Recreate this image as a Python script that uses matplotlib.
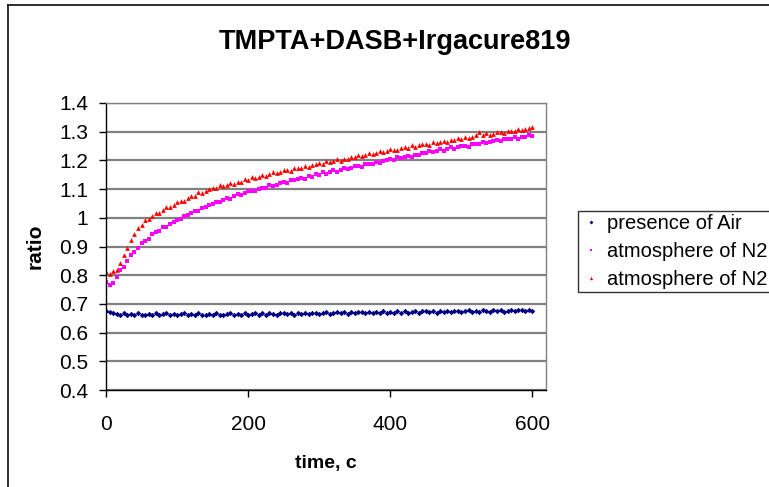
"""
plot.py
-------
Photopolymerisation kinetics of TMPTA+DASB+Irgacure819: fluorescence
ratio vs irradiation time, in air and under N2 (two runs).
"""

import matplotlib
matplotlib.use("Agg")
import matplotlib.pyplot as plt
from matplotlib.lines import Line2D

plt.rcParams["font.family"] = ["Liberation Sans", "DejaVu Sans"]

TITLE = "TMPTA+DASB+Irgacure819"
X_LABEL = "time, c"
Y_LABEL = "ratio"
LABELS = ["presence of Air", "atmosphere of N2", "atmosphere of N2"]

# sampling time, s (every 5 s)
TIME = list(range(0, 601, 5))

AIR = [0.677, 0.673, 0.667, 0.665, 0.662, 0.668, 0.662, 0.666, 0.661, 0.667,
       0.663, 0.660, 0.666, 0.662, 0.667, 0.661, 0.664, 0.668, 0.662, 0.666,
       0.660, 0.664, 0.667, 0.661, 0.666, 0.662, 0.668, 0.663, 0.661, 0.666,
       0.662, 0.667, 0.663, 0.661, 0.666, 0.668, 0.662, 0.666, 0.663, 0.667,
       0.661,
       0.666, 0.668, 0.662, 0.667, 0.663, 0.668, 0.665, 0.662, 0.667, 0.669,
       0.664, 0.668, 0.663, 0.669, 0.665, 0.670, 0.664, 0.668, 0.670, 0.665,
       0.669, 0.671, 0.666, 0.670, 0.672, 0.667, 0.671, 0.666, 0.672, 0.668,
       0.671, 0.673, 0.667, 0.672, 0.668, 0.673, 0.669, 0.674, 0.669, 0.673,
       0.668, 0.674, 0.670, 0.675, 0.669, 0.673, 0.675, 0.670, 0.674, 0.676,
       0.671, 0.675, 0.670, 0.676, 0.672, 0.677, 0.671, 0.675, 0.677, 0.672,
       0.676, 0.678, 0.672, 0.677, 0.673, 0.678, 0.674, 0.672, 0.678, 0.674,
       0.679, 0.673, 0.677, 0.679, 0.674, 0.678, 0.680, 0.675, 0.679, 0.676]

N2_A = [0.775, 0.766, 0.773, 0.793, 0.817, 0.829, 0.851, 0.872, 0.881, 0.896,
        0.912, 0.920, 0.927, 0.942, 0.949, 0.954, 0.968, 0.968, 0.978, 0.987,
        0.994, 0.995, 1.008, 1.009, 1.016, 1.025, 1.024, 1.034, 1.036, 1.046,
        1.047, 1.056, 1.055, 1.061, 1.069, 1.067, 1.075, 1.083, 1.080, 1.085,
        1.093, 1.093, 1.093, 1.102, 1.104, 1.105, 1.114, 1.110, 1.116, 1.121,
        1.124, 1.122, 1.132, 1.130, 1.134, 1.140, 1.136, 1.144, 1.143, 1.151,
        1.150, 1.158, 1.154, 1.159, 1.165, 1.161, 1.168, 1.175, 1.170, 1.174,
        1.180, 1.180, 1.178, 1.187, 1.188, 1.188, 1.196, 1.192, 1.197, 1.202,
        1.204, 1.202, 1.211, 1.208, 1.212, 1.217, 1.212, 1.220, 1.219, 1.226,
        1.225, 1.232, 1.228, 1.232, 1.238, 1.234, 1.240, 1.246, 1.241, 1.245,
        1.251, 1.250, 1.248, 1.256, 1.257, 1.256, 1.264, 1.259, 1.264, 1.268,
        1.270, 1.267, 1.276, 1.273, 1.276, 1.281, 1.275, 1.282, 1.281, 1.287,
        1.285]

N2_B = [0.812, 0.805, 0.815, 0.817, 0.842, 0.871, 0.896, 0.923, 0.942, 0.963,
        0.975, 0.992, 0.996, 1.006, 1.016, 1.017, 1.028, 1.038, 1.037, 1.044,
        1.054, 1.057, 1.059, 1.070, 1.075, 1.077, 1.089, 1.086, 1.094, 1.100,
        1.104, 1.103, 1.113, 1.112, 1.116, 1.122, 1.118, 1.126, 1.126, 1.134,
        1.133, 1.141, 1.138, 1.143, 1.149, 1.146, 1.153, 1.159, 1.155, 1.159,
        1.166, 1.165, 1.164, 1.173, 1.174, 1.174, 1.182, 1.178, 1.183, 1.188,
        1.190, 1.188, 1.197, 1.195, 1.198, 1.204, 1.199, 1.206, 1.206, 1.213,
        1.211, 1.219, 1.215, 1.219, 1.225, 1.221, 1.227, 1.233, 1.229, 1.232,
        1.238, 1.237, 1.235, 1.244, 1.245, 1.244, 1.252, 1.247, 1.252, 1.256,
        1.258, 1.255, 1.264, 1.261, 1.264, 1.269, 1.264, 1.271, 1.270, 1.277,
        1.275, 1.282, 1.278, 1.282, 1.287, 1.300, 1.289, 1.295, 1.290, 1.293,
        1.299, 1.298, 1.296, 1.303, 1.304, 1.303, 1.311, 1.306, 1.309, 1.314,
        1.316]

Y_TICKS = [0.4, 0.5, 0.6, 0.7, 0.8, 0.9, 1.0, 1.1, 1.2, 1.3, 1.4]
Y_TICK_LABELS = ["0.4", "0.5", "0.6", "0.7", "0.8", "0.9", "1",
                 "1.1", "1.2", "1.3", "1.4"]
X_TICKS = [0, 200, 400, 600]

W, H = 769, 487


def main() -> None:
    fig = plt.figure(figsize=(W / 100, H / 100), dpi=100)
    ax = fig.add_axes([106 / W, 1 - 390 / H, 440 / W, 287 / H])

    ax.plot(TIME, AIR, ls="none", marker="D", ms=2.8, mew=0,
            color="#000080", label=LABELS[0])
    ax.plot(TIME, N2_A, ls="none", marker="s", ms=2.4, mew=0,
            color="#ff00ff", label=LABELS[1])
    ax.plot(TIME, N2_B, ls="none", marker="^", ms=3.4, mew=0,
            color="#ff0000", label=LABELS[2])

    ax.set_xlim(0, 619)
    ax.set_ylim(0.4, 1.4)
    ax.set_xticks(X_TICKS)
    ax.set_yticks(Y_TICKS)
    ax.set_yticklabels(Y_TICK_LABELS)
    ax.tick_params(direction="out", length=5, width=1, labelsize=15,
                   colors="black")
    ax.tick_params(axis="y", pad=8)
    ax.tick_params(axis="x", pad=13)

    ax.yaxis.grid(True, color="#808080", linewidth=1.6)
    ax.set_axisbelow(True)
    for side in ("left", "bottom"):
        ax.spines[side].set_color("black")
        ax.spines[side].set_linewidth(1)
    for side in ("top", "right"):
        ax.spines[side].set_color("#808080")
        ax.spines[side].set_linewidth(1)

    ax.set_xlabel(X_LABEL, fontsize=14, fontweight="bold", labelpad=15)
    ax.set_ylabel(Y_LABEL, fontsize=15, fontweight="bold", labelpad=10)

    fig.text(395 / W, 1 - 49 / H, TITLE, fontsize=19.5, fontweight="bold",
             ha="center", va="baseline")

    ax.legend(loc="lower left", bbox_to_anchor=(578 / W, 1 - 292 / H, 0.3, 0.2),
              bbox_transform=fig.transFigure, mode="expand", fontsize=14.5,
              frameon=True, fancybox=False, shadow=False, borderaxespad=0,
              borderpad=0.15, handlelength=1.0, handletextpad=0.3,
              labelspacing=0.44, markerscale=0.7, edgecolor="black")
    leg = ax.get_legend()
    leg.get_frame().set_linewidth(1)

    # chart-area frame (its right and bottom edges fall outside the picture)
    fig.add_artist(Line2D([8 / W, 1], [1 - 4.5 / H, 1 - 4.5 / H],
                          transform=fig.transFigure, color="#202020", lw=1.3))
    fig.add_artist(Line2D([8 / W, 8 / W], [0, 1 - 4.5 / H],
                          transform=fig.transFigure, color="#202020", lw=1.3))

    fig.savefig("out.png", dpi=100, facecolor="white")
    plt.close(fig)


if __name__ == "__main__":
    main()
